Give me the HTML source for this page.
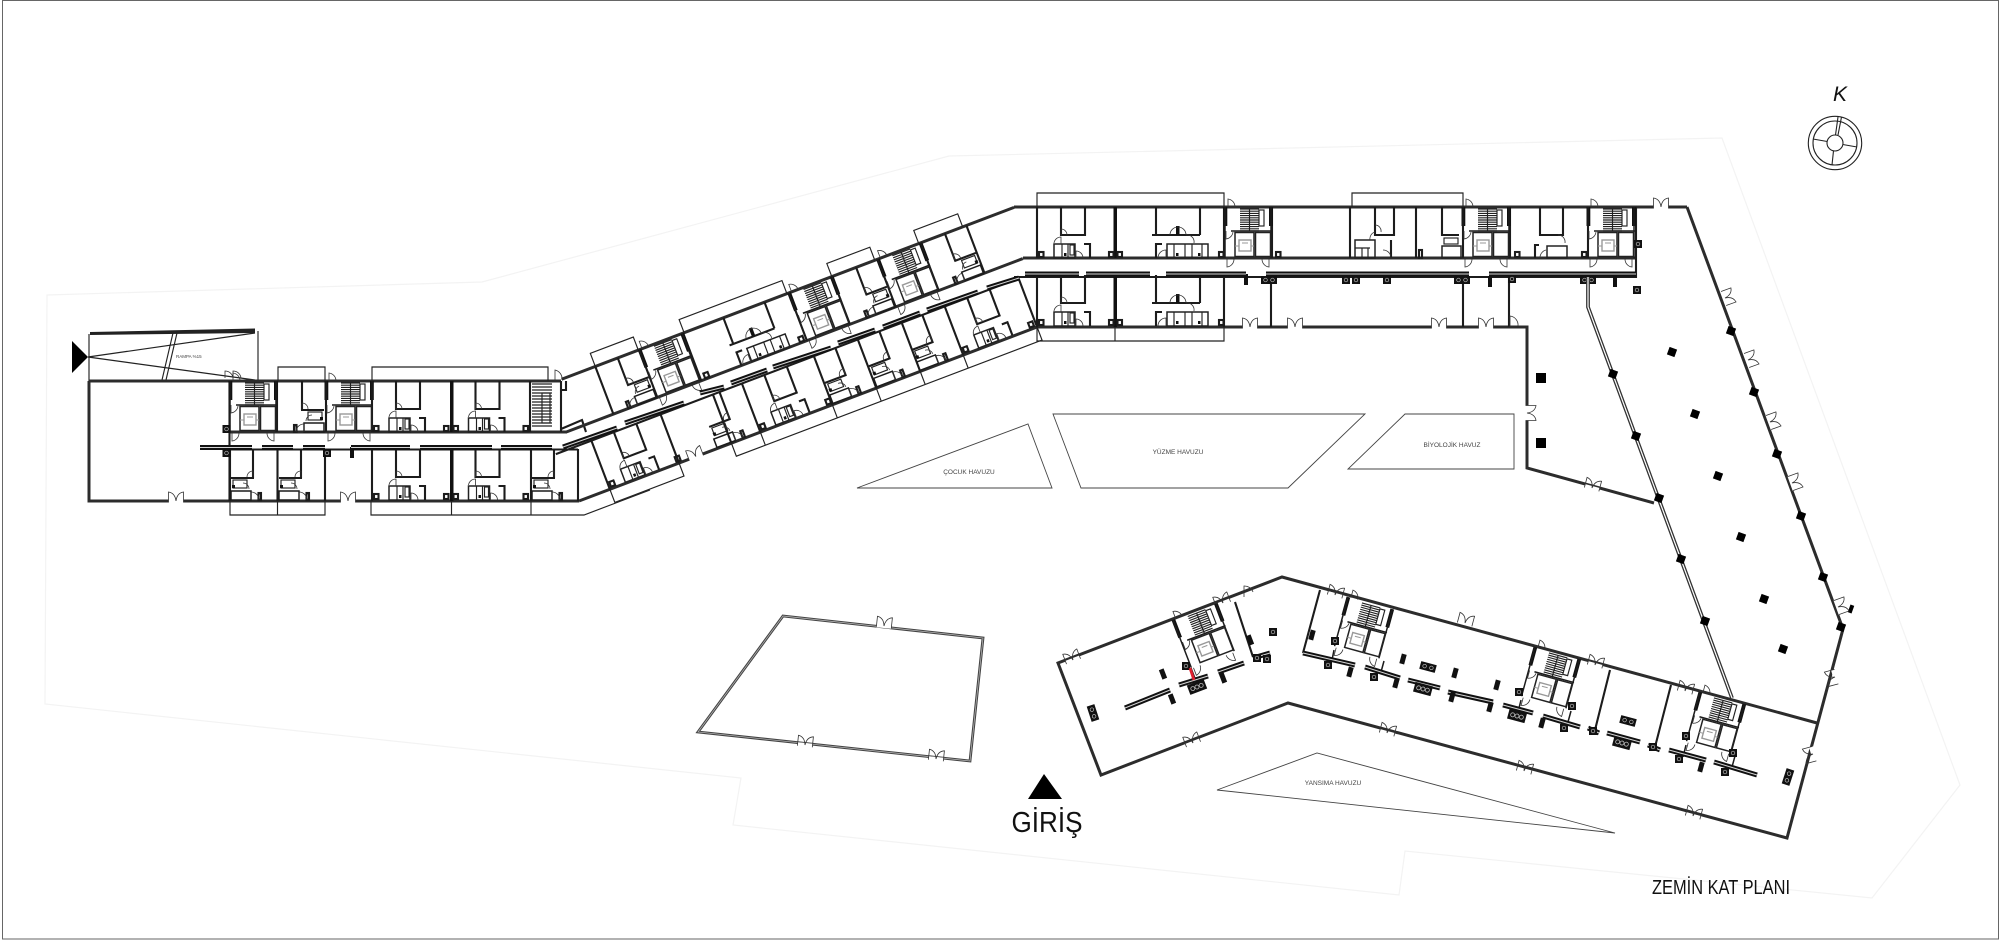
<!DOCTYPE html>
<html><head><meta charset="utf-8"><style>
html,body{margin:0;padding:0;background:#fff;width:2000px;height:940px;overflow:hidden}
svg{display:block}
.w{stroke:#2c2c2c;stroke-width:3;fill:none}
.m{stroke:#1c1c1c;stroke-width:2.1;fill:none}
.t{stroke:#222;stroke-width:1.15;fill:none}
.h{stroke:#333;stroke-width:.8;fill:none}
.g{stroke:#999;stroke-width:1.4;fill:none}
.f{fill:#111;stroke:none}
.l{font-family:"Liberation Sans",sans-serif;font-size:6.5px;fill:#444}
.d1{fill:#fff;stroke:none}
</style></head><body>
<svg xmlns="http://www.w3.org/2000/svg" width="2000" height="940" viewBox="0 0 2000 940">
<defs>
<g id="D"><rect class="d1" x="-7.500" y="-2" width="15" height="4"/><path class="h" d="M-7.500 1.500V-9Q-1-8 0 0Q1-8 7.500-9V1.500"/></g>
<g id="b"><rect class="f" x="-4" y="-4" width="8" height="8"/><circle cx="0" cy="0" r="1.800" fill="none" stroke="#bbb" stroke-width=".7"/></g>
<g id="b2"><rect class="f" x="-8" y="-4" width="16" height="8"/><circle cx="-3.500" cy="0" r="1.800" fill="none" stroke="#bbb" stroke-width=".7"/><circle cx="3.500" cy="0" r="1.800" fill="none" stroke="#bbb" stroke-width=".7"/></g>
<g id="b3"><rect class="f" x="-9" y="-5" width="18" height="10"/><circle cx="-4.500" cy="0" r="2" fill="none" stroke="#bbb" stroke-width=".8"/><circle cx="0" cy="0" r="2" fill="none" stroke="#bbb" stroke-width=".8"/><circle cx="4.500" cy="0" r="2" fill="none" stroke="#bbb" stroke-width=".8"/></g>
<g id="W">
<path class="m" d="M24 0V28H48V0M47 37H53V51"/>
<rect class="t" x="17" y="37" width="21" height="14" style="stroke-width:1.500"/>
<path class="t" d="M25 37V51M31 37V51"/>
<rect class="t" x="33" y="38" width="4" height="10"/>
<rect class="f" x="27" y="46" width="2.500" height="3"/>
<rect class="m" x="2" y="45" width="4.500" height="5"/><rect class="m" x="72" y="45" width="4.500" height="5"/>
<path class="h" d="M24 22A6 6 0 0 1 30 28M24 22V28M17 36A7 7 0 0 1 24 30V37M46 51A7 7 0 0 0 39 44V51"/>
</g>
<g id="N">
<path class="m" d="M24 0V29M23 29H46"/>
<rect class="m" x="26" y="42" width="20" height="9" style="stroke-width:1.500"/>
<rect class="t" x="30" y="31" width="14" height="8"/>
<rect class="m" x="16" y="44" width="2.500" height="7"/>
<path class="h" d="M24 22A6 6 0 0 1 30 28M24 22V28M18 51A8 8 0 0 1 26 43V51M28 40A6 6 0 0 1 34 34"/>
<rect class="f" x="42" y="36" width="3" height="3"/>
</g>
<g id="DD">
<path class="m" d="M40 0V28M84 0V28M36 28H84"/>
<rect class="f" x="60" y="19" width="3.500" height="9"/>
<path class="h" d="M54 28A8 8 0 0 1 70 28"/>
<rect class="t" x="51" y="37" width="41" height="14" style="stroke-width:1.500"/>
<path class="t" d="M58 37V51M69 37V51M76 37V51M86 37V51"/>
<path class="m" d="M46 37H40V51"/>
<rect class="f" x="60" y="46" width="2.500" height="3"/><rect class="f" x="82" y="46" width="2.500" height="3"/>
<rect class="m" x="1.500" y="45" width="4.500" height="5"/><rect class="m" x="103" y="45" width="4.500" height="5"/>
<path class="h" d="M42 51A8 8 0 0 1 50 43V51M70 28A7 7 0 0 1 78 36"/>
</g>
<g id="C">
<path class="t" style="stroke-width:1.150" d="M15 2H34M15 4.200H34M15 6.400H34M15 8.600H34M15 10.800H34M15 13H34M15 15.200H34M15 17.400H34M15 19.600H34M15 21.800H34M15 24H34M24.500 2V24"/>
<rect class="t" x="34" y="3" width="5" height="16"/>
<rect class="f" x="-1.500" y="0" width="3.800" height="19"/><rect class="f" x="44" y="0" width="3.800" height="19"/>
<path class="m" d="M6 24H47M0 0V51M46 0V51" style="stroke-width:1.500"/>
<rect class="t" x="10" y="25.500" width="19" height="24" style="stroke-width:1.500"/>
<rect class="t" x="30.500" y="25.500" width="15" height="24" style="stroke-width:1.500"/>
<rect class="g" x="14" y="33" width="12" height="11"/>
<path class="g" d="M14 39H10M26 39H29M17 36H23" style="stroke-width:1"/>
<path class="h" d="M1 24V32A8 8 0 0 0 8 25M2 52V60A8 8 0 0 0 9 52M44 52V60A8 8 0 0 1 37 52M3 0V-8A8 8 0 0 1 10 0"/>
</g>
<path id="bars" d="M200 447.500H252M262 447.500H293M303 447.500H325M351 447.500H410M420 447.500H492M501 447.500H552M563 447L617 428M625 423L684 403M700 393L724 387M731 383L767 370M773 367L831 348M838 343L875 330M883 327L920 313M927 310L978 292M987 288L1019 278M1025 274H1079M1086 274H1150M1166 274H1246M1266 274H1469M1489 274H1636M1125 708L1170 690M1179 685L1208 676M1218 672L1244 663M1253 658L1270 653M1303 653L1355 665M1365 667L1400 678M1408 680L1440 688M1448 692L1493 702M1503 705L1533 713M1543 716L1580 727M1588 728L1599 733M1607 733L1640 742M1648 745L1660 750M1669 750L1706 760M1714 762L1757 775"/>
</defs>

<rect x="2.500" y="0.500" width="1996" height="938.500" fill="none" stroke="#666" stroke-width="1"/>

<!-- site boundary -->
<path d="M47 295L482 282L949 156L1722 138L1960 785L1872 898L1405 851L1399 895L733 825L741 778L45 704Z" fill="none" stroke="#f3f3f3" stroke-width="1.200"/>

<!-- ramp -->
<path d="M72 341L88 357L72 373Z" fill="#000"/>
<path d="M90 332L255 328.500L255 333L90 335Z" fill="#222"/>
<path class="t" d="M89 334V381M258 331V381M88 357L255 333M88 357L255 380M173 333L162 380M177 333L166 380"/>
<text class="l" x="176" y="358" style="font-size:4.500px">RAMPA %15</text>

<!-- Wing A walls -->
<path class="w" d="M89 381V501H579M89 381H561M229 432H567"/>
<path class="m" d="M229.500 381V501M277 381V432M326 381V432M372 381V432M451.500 381V432M530 381V432M561 381V432M230 449V501M277.500 449V501M325 449V501M372 449V501M451.500 449V501M531 449V501M578 449V501M229 449.500H578"/>
<rect class="f" x="450" y="381" width="3.500" height="51"/><rect class="f" x="450" y="449" width="3.500" height="52"/>
<path class="t" d="M278 381V367H325V381M372 381V367H548V381M230 501V515H325V501M277.500 501V515M371 501V515H584L650 490M451.500 501V515M531 501V515"/>
<use href="#C" x="230" y="381"/><use href="#C" x="326" y="381"/>
<use href="#N" x="278" y="381"/>
<use href="#W" x="372" y="381"/><use href="#W" x="451.500" y="381"/>
<use href="#N" transform="translate(277,449) scale(-1,1)"/><use href="#N" transform="translate(325,449) scale(-1,1)"/><use href="#N" transform="translate(578,449) scale(-1,1)"/>
<use href="#W" x="372" y="449"/><use href="#W" x="451.500" y="449"/>
<path class="t" d="M532 384H552M532 387H552M532 390H552M532 393H552M532 396H552M532 399H552M532 402H552M532 405H552M532 408H552M532 411H552M532 414H552M532 417H552M532 420H552M532 423H552M532 426H552"/>
<rect class="t" x="542" y="393" width="8" height="30"/>
<path class="m" d="M561 390H566V381M561 429L582 420L586 432"/>
<path class="h" d="M555 381V370A9 9 0 0 1 562 380M225 378V371A8 8 0 0 1 233 378M233 378V371A8 8 0 0 1 241 378"/>
<use href="#b" x="226.500" y="429"/><use href="#b" x="226.500" y="453"/><use href="#b" x="327" y="453"/>
<rect class="f" x="350" y="447" width="4" height="11"/>
<use href="#D" x="176" y="501"/><use href="#D" x="348" y="501"/>

<!-- Wing B -->
<g transform="translate(579,501) rotate(-20.8)">
<path class="w" d="M27-120H511M13-69H501M0 0H490"/>
<path class="m" d="M-5-52H490M63-120V-69M110-120V-69M157-120V-69M270-120V-69M316-120V-69M365-120V-69M411-120V-69M460-120V-69M33-52V0M107-52V0M163-52V0M194-52V0M271-52V0M318-52V0M365-52V0M411-52V0M490-52V0"/>
<path class="t" d="M63-120V-134H109V-120M158-120V-134H268V-120M316-120V-134H362V-120M409-120V-134H456V-120M33 0V14H107V0M163 0V14H490V0M194 0V14M271 0V14M318 0V14M365 0V14M411 0V14"/>
<use href="#N" x="63" y="-120"/><use href="#C" x="110" y="-120"/><use href="#DD" x="160" y="-120"/><use href="#C" x="270" y="-120"/><use href="#N" x="318" y="-120"/><use href="#C" x="365" y="-120"/><use href="#N" x="413" y="-120"/>
<use href="#W" x="33" y="-52"/>
<use href="#N" transform="translate(194,-52) scale(-1,1)"/>
<use href="#W" x="194" y="-52"/>
<use href="#N" transform="translate(318,-52) scale(-1,1)"/><use href="#N" transform="translate(365,-52) scale(-1,1)"/><use href="#N" transform="translate(411,-52) scale(-1,1)"/>
<use href="#W" x="411" y="-52"/>
<use href="#D" x="125" y="0"/>
</g>

<!-- Wing C -->
<path class="w" d="M1014 207H1687M1023 258H1636M1037 327H1527V468L1654 503"/>
<path class="m" d="M1014 277H1636V207M1037 207V258M1115 207V258M1224 207V258M1272 207V258M1350 207V258M1416 207V258M1463 207V258M1510 207V258M1588 207V258M1037 277V327M1115 277V327M1224 277V327M1271 277V327M1463 277V327M1509 277V327"/>
<rect class="f" x="1113.500" y="207" width="3.500" height="51"/><rect class="f" x="1113.500" y="277" width="3.500" height="50"/>
<path class="t" d="M1037 207V193H1224V207M1352 207V193H1463V207M1037 327V341H1224V327M1115 327V341"/>
<use href="#W" x="1037" y="207"/><use href="#DD" x="1116" y="207"/>
<use href="#W" x="1037" y="275"/><use href="#DD" x="1116" y="275"/>
<use href="#C" x="1225" y="207"/><use href="#C" x="1463" y="207"/><use href="#C" x="1588" y="207"/>
<path class="m" d="M1375 207V235H1394V207M1391 240V258M1442 207V236M1442 235H1459"/>
<rect class="t" x="1355" y="240" width="20" height="18" style="stroke-width:1.500"/><path class="t" d="M1355 248H1370M1362 248V258M1368 248V258"/>
<rect class="t" x="1442" y="246" width="19" height="12" style="stroke-width:1.500"/><rect class="t" x="1444" y="238" width="14" height="6"/>
<path class="h" d="M1375 225A6 6 0 0 1 1381 232M1370 240A7 7 0 0 1 1375 232M1391 258A8 8 0 0 0 1383 250"/>
<rect class="m" x="1419" y="250" width="3" height="8"/>
<path class="m" d="M1540 207V235H1563V207M1535 258V245H1539"/>
<rect class="t" x="1547" y="246" width="20" height="12" style="stroke-width:1.500"/><rect class="m" x="1515" y="252" width="4.500" height="5"/><rect class="m" x="1582" y="252" width="4.500" height="5"/>
<path class="h" d="M1558 235A7 7 0 0 1 1565 243M1540 258A8 8 0 0 1 1546 250"/>
<rect class="m" x="1276" y="252" width="4.500" height="5"/>
<use href="#b" x="1638" y="244"/><use href="#b" x="1637" y="290"/>
<use href="#b2" x="1269" y="280"/><use href="#b" x="1346" y="280"/><use href="#b" x="1356" y="280"/><use href="#b" x="1387" y="280"/><use href="#b2" x="1462" y="280"/><use href="#b" x="1512" y="279"/><use href="#b2" x="1588" y="280"/>
<rect class="f" x="1488" y="276" width="4" height="11"/><rect class="f" x="1613" y="276" width="4" height="11"/><rect class="f" x="1244" y="274" width="4" height="11"/>
<use href="#D" x="1250" y="327"/><use href="#D" x="1295" y="327"/><use href="#D" x="1439" y="327"/><use href="#D" x="1486" y="327"/>
<path class="h" d="M1510 327V316A9 9 0 0 1 1518 326"/>

<!-- East wing and south wing outer -->
<path class="w" d="M1687 207L1843 629L1787 838L1288 703L1101 775L1058 663L1282 577L1817 723"/>
<path d="M1588 277V307L1732 698" fill="none" stroke="#333" stroke-width="3.800"/>
<path d="M1588 277V307L1732 698" fill="none" stroke="#fff" stroke-width="1.200"/>
<rect x="1536" y="373" width="10" height="10" fill="#000"/><rect x="1536" y="438" width="10" height="10" fill="#000"/>
<g fill="#000" stroke="none">
<rect x="-4" y="-4" width="8" height="8" transform="translate(1613,374) rotate(20)"/><rect x="-4" y="-4" width="8" height="8" transform="translate(1636,436) rotate(20)"/><rect x="-4" y="-4" width="8" height="8" transform="translate(1659,498) rotate(20)"/><rect x="-4" y="-4" width="8" height="8" transform="translate(1681,559) rotate(20)"/><rect x="-4" y="-4" width="8" height="8" transform="translate(1705,621) rotate(20)"/>
<rect x="-4" y="-4" width="8" height="8" transform="translate(1672,352) rotate(20)"/><rect x="-4" y="-4" width="8" height="8" transform="translate(1695,414) rotate(20)"/><rect x="-4" y="-4" width="8" height="8" transform="translate(1718,476) rotate(20)"/><rect x="-4" y="-4" width="8" height="8" transform="translate(1741,537) rotate(20)"/><rect x="-4" y="-4" width="8" height="8" transform="translate(1764,599) rotate(20)"/><rect x="-4" y="-4" width="8" height="8" transform="translate(1783,649) rotate(20)"/>
<rect x="-4" y="-4" width="8" height="8" transform="translate(1731,331) rotate(20)"/><rect x="-4" y="-4" width="8" height="8" transform="translate(1754,392) rotate(20)"/><rect x="-4" y="-4" width="8" height="8" transform="translate(1777,454) rotate(20)"/><rect x="-4" y="-4" width="8" height="8" transform="translate(1801,516) rotate(20)"/><rect x="-4" y="-4" width="8" height="8" transform="translate(1823,577) rotate(20)"/><rect x="-4" y="-4" width="8" height="8" transform="translate(1841,627) rotate(20)"/>
<rect x="-2" y="-4" width="4" height="8" transform="translate(1851,609) rotate(20)"/>
</g>
<use href="#D" x="1661" y="207"/>
<use href="#D" transform="translate(1725,298) rotate(70)"/><use href="#D" transform="translate(1748,360) rotate(70)"/><use href="#D" transform="translate(1770,422) rotate(70)"/><use href="#D" transform="translate(1792,483) rotate(70)"/><use href="#D" transform="translate(1838,607) rotate(70)"/>
<use href="#D" transform="translate(1835,677) rotate(-105)"/><use href="#D" transform="translate(1813,754) rotate(-105)"/>
<use href="#D" transform="translate(1527,413) rotate(90)"/><use href="#D" transform="translate(1592,488) rotate(15)"/>
<use href="#D" transform="translate(1073,660) rotate(-21)"/><use href="#D" transform="translate(1193,743) rotate(-21)"/><use href="#D" transform="translate(1223,603) rotate(-21)"/>
<use href="#D" transform="translate(1335,595) rotate(15)"/><use href="#D" transform="translate(1465,623) rotate(15)"/><use href="#D" transform="translate(1387,733) rotate(15)"/><use href="#D" transform="translate(1524,771) rotate(15)"/><use href="#D" transform="translate(1693,816) rotate(15)"/><use href="#D" transform="translate(1595,665) rotate(15)"/><use href="#D" transform="translate(1685,691) rotate(15)"/>

<!-- South wing cores -->
<use href="#C" transform="translate(1173,620) rotate(-21)"/>
<use href="#C" transform="translate(1348,597) rotate(15.3)"/>
<use href="#C" transform="translate(1535,647) rotate(15.3)"/>
<use href="#C" transform="translate(1700,692) rotate(15.3)"/>
<path class="m" style="stroke-width:1.500" d="M1191 668L1196 681M1334 650L1332 660M1521 700L1518 712M1686 745L1683 757M1384 661L1381 672M1571 711L1568 722M1735 756L1732 767"/>
<path class="m" d="M1235 602L1253 657M1320 590L1303 653M1610 670L1595 730M1671 685L1655 747"/>
<path class="h" d="M1244 597V586A9 9 0 0 1 1253 592"/>
<rect x="-2.500" y="-5" width="5" height="10" class="f" transform="translate(1250,640) rotate(-21)"/>
<rect x="-2.500" y="-5" width="5" height="10" class="f" transform="translate(1312,635) rotate(15)"/>

<!-- bars -->
<use href="#bars" fill="none" stroke="#111" stroke-width="5"/>
<use href="#bars" fill="none" stroke="#d5d5d5" stroke-width="1"/>
<use href="#b3" transform="translate(1197,687) rotate(-21)"/><use href="#b" x="1186" y="666"/><use href="#b" x="1257" y="658"/><use href="#b" x="1267" y="659"/><use href="#b" x="1273" y="632"/>
<use href="#b2" transform="translate(1093,713) rotate(72)"/>
<use href="#b" x="1335" y="641"/><use href="#b" x="1328" y="665"/><use href="#b" x="1374" y="677"/>
<use href="#b2" transform="translate(1428,667) rotate(15)"/><use href="#b3" transform="translate(1423,689) rotate(15)"/>
<use href="#b3" transform="translate(1517,716) rotate(15)"/><use href="#b" x="1519" y="692"/><use href="#b" x="1572" y="706"/><use href="#b" x="1564" y="728"/><use href="#b" x="1593" y="731"/>
<use href="#b2" transform="translate(1628,721) rotate(15)"/><use href="#b3" transform="translate(1622,743) rotate(15)"/>
<use href="#b" x="1653" y="747"/><use href="#b" x="1686" y="736"/><use href="#b" x="1733" y="753"/><use href="#b" x="1679" y="759"/><use href="#b" x="1725" y="772"/>
<use href="#b2" transform="translate(1788,777) rotate(-72)"/>
<g class="f">
<rect x="-2.500" y="-5" width="5" height="10" transform="translate(1163,674) rotate(-21)"/><rect x="-2.500" y="-5" width="5" height="10" transform="translate(1223,678) rotate(-21)"/><rect x="-2.500" y="-5" width="5" height="10" transform="translate(1172,699) rotate(-21)"/>
<rect x="-2.500" y="-5" width="5" height="10" transform="translate(1350,672) rotate(15)"/><rect x="-2.500" y="-5" width="5" height="10" transform="translate(1396,683) rotate(15)"/><rect x="-2.500" y="-5" width="5" height="10" transform="translate(1452,697) rotate(15)"/><rect x="-2.500" y="-5" width="5" height="10" transform="translate(1490,707) rotate(15)"/><rect x="-2.500" y="-5" width="5" height="10" transform="translate(1542,723) rotate(15)"/><rect x="-2.500" y="-5" width="5" height="10" transform="translate(1701,767) rotate(15)"/>
<rect x="-2.500" y="-5" width="5" height="10" transform="translate(1403,659) rotate(15)"/><rect x="-2.500" y="-5" width="5" height="10" transform="translate(1455,673) rotate(15)"/><rect x="-2.500" y="-5" width="5" height="10" transform="translate(1497,685) rotate(15)"/>
</g>
<path d="M1190 668L1194 680" stroke="#e0202f" stroke-width="2.800"/>

<!-- Pools -->
<path d="M857 488L1028 424L1052 488ZM1053 414H1365L1288 488H1081ZM1405 414H1514V469H1348ZM1217 790L1317 753L1615 833Z" fill="none" stroke="#444" stroke-width=".9"/>
<text class="l" x="969" y="474" text-anchor="middle">ÇOCUK HAVUZU</text>
<text class="l" x="1178" y="454" text-anchor="middle">YÜZME HAVUZU</text>
<text class="l" x="1452" y="447" text-anchor="middle">BİYOLOJİK HAVUZ</text>
<text class="l" x="1333" y="785" text-anchor="middle">YANSIMA HAVUZU</text>

<!-- SW building -->
<path d="M783 616L983 638L970 761L698 732Z" fill="none" stroke="#444" stroke-width="2.800"/>
<path d="M783 616L983 638L970 761L698 732Z" fill="none" stroke="#bbb" stroke-width=".7"/>
<use href="#D" transform="translate(884,626) rotate(6)"/><use href="#D" transform="translate(805,745) rotate(6)"/><use href="#D" transform="translate(936,759) rotate(6)"/>

<!-- Labels -->
<path d="M1028 799H1062L1044 774Z" fill="#000"/>
<text x="1047" y="832" text-anchor="middle" font-family="'Liberation Sans',sans-serif" font-size="29" fill="#111" textLength="71" lengthAdjust="spacingAndGlyphs">GİRİŞ</text>
<text x="1652" y="894" font-family="'Liberation Sans',sans-serif" font-size="20" fill="#111" textLength="138" lengthAdjust="spacingAndGlyphs">ZEMİN KAT PLANI</text>

<!-- Compass -->
<text x="1840" y="101" text-anchor="middle" font-family="'Liberation Sans',sans-serif" font-style="italic" font-size="21" fill="#111">K</text>
<g transform="translate(1835,143)" fill="none" stroke="#222" stroke-width="1.100">
<circle r="26.700"/><circle r="22"/><circle r="8"/>
<path d="M-7.800-1.500L-22-4M7.800 1.500L22 4M-1.500 7.800L-3 22M0.500-8L3-26M3-8L6.500-26"/>
</g>
</svg>
</body></html>
